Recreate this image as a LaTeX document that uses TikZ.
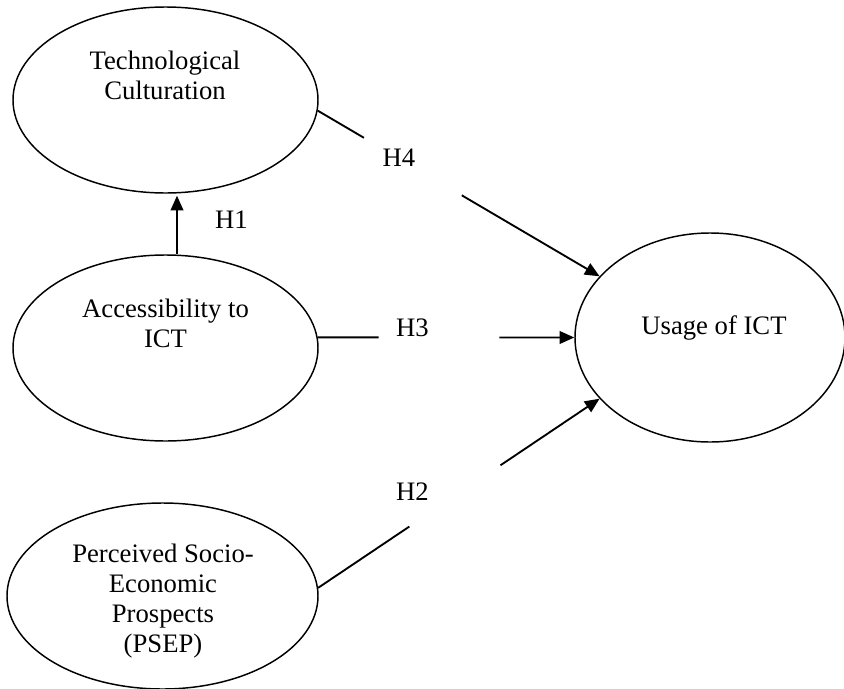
\documentclass[tikz,border=0pt]{standalone}
\usepackage{fontspec}
\setmainfont{Liberation Serif}
\usetikzlibrary{shapes.geometric,arrows.meta,calc}

\tikzset{every picture/.style={line width=1.1pt}}
\tikzset{construct/.style={draw, ellipse, inner sep=0pt},
  link/.style={line width=1.4pt},
  lbl/.style={inner sep=0pt, align=center, font=\fontsize{20}{22.5}\selectfont}}

\begin{document}
\begin{tikzpicture}[x=0.75pt,y=0.75pt,yscale=-1,xscale=1,>={Triangle[length=11pt,width=9.5pt]}]
\useasboundingbox (0,0) rectangle (844,689);

%Shape: Ellipse [Technological Culturation]
\node [construct, minimum width=228.75pt, minimum height=139.5pt] (tc) at (165.5,100) {};
%Shape: Ellipse [Accessibility to ICT]
\node [construct, minimum width=228.75pt, minimum height=139.5pt] (ac) at (165.5,348) {};
%Shape: Ellipse [PSEP]
\node [construct, minimum width=233.25pt, minimum height=139.5pt] (pc) at (162.5,596) {};
%Shape: Ellipse [Usage of ICT]
\node [construct, minimum width=202.5pt, minimum height=156.75pt] (uc) at (710,337.5) {};

%Gap ends where the hypothesis boxes sit
\coordinate (h4a) at ($(tc.-4)!0.164!(uc.151)$);
\coordinate (h4b) at ($(tc.-4)!0.511!(uc.151)$);
\coordinate (h3a) at ($(ac.4)!0.237!(uc.west)$);
\coordinate (h3b) at ($(ac.4)!0.708!(uc.west)$);
\coordinate (h2a) at ($(pc.3.7)!0.324!(uc.209.6)$);
\coordinate (h2b) at ($(pc.3.7)!0.648!(uc.209.6)$);

%Straight Lines [H1]
\draw [link,->] ($(ac.north)+(11.5,0)$) -- ($(tc.south)+(11.5,2)$);
%Straight Lines [H4]
\draw [link] (tc.-4) -- (h4a);
\draw [link,->] (h4b) -- (uc.151);
%Straight Lines [H3]
\draw [link] (ac.4) -- (h3a);
\draw [link,->] (h3b) -- (uc.west);
%Straight Lines [H2]
\draw [link] (pc.3.7) -- (h2a);
\draw [link,->] (h2b) -- (uc.209.6);

% Text Node
\node [lbl] (tctext) at (165,75) {Technological\\Culturation};
% Text Node
\node [lbl] (actext) at (165.5,323) {Accessibility to\\ICT};
% Text Node
\node [lbl] (pctext) at (163,601) {Perceived Socio-\\Economic\\Prospects\\(PSEP)};
% Text Node
\node [lbl] (uctext) at (714,328) {Usage of ICT};
% Text Node
\node [lbl] (h1) at (231.5,220) {H1};
% Text Node
\node [lbl] (h4) at (399,158) {H4};
% Text Node
\node [lbl] (h3) at (412.5,328) {H3};
% Text Node
\node [lbl] (h2) at (412.5,491.5) {H2};

\end{tikzpicture}
\end{document}
